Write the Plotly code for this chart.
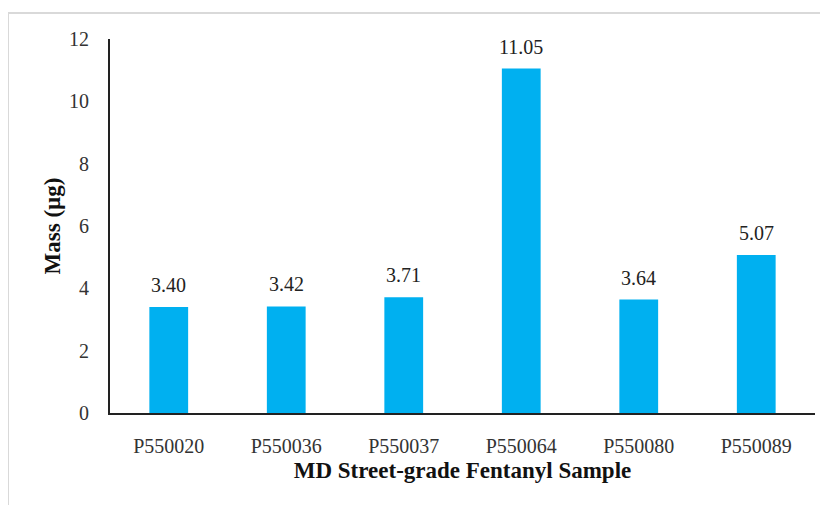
import plotly.graph_objects as go

samples = ["P550020", "P550036", "P550037", "P550064", "P550080", "P550089"]
mass = [3.40, 3.42, 3.71, 11.05, 3.64, 5.07]
labels = ["3.40", "3.42", "3.71", "11.05", "3.64", "5.07"]
y_ticks = [0, 2, 4, 6, 8, 10, 12]

font_family = "Liberation Serif"

fig = go.Figure(go.Bar(
    x=samples, y=mass,
    marker=dict(color="#00B0F0", line=dict(width=0)),
))

annotations = [
    dict(x=s, y=v, text=t, xref="x", yref="y", showarrow=False,
         yanchor="bottom", yshift=9,
         font=dict(family=font_family, size=20, color="#222222"))
    for s, v, t in zip(samples, mass, labels)
]

# page has 8px body margin: plot area at page x 110-815, y 39-413
fig.update_layout(
    width=828, height=505,
    margin=dict(l=102, r=21, t=31, b=100),
    paper_bgcolor="white", plot_bgcolor="white",
    bargap=0.67, showlegend=False,
    font=dict(family=font_family, size=20, color="#222222"),
    xaxis=dict(
        showline=True, linecolor="#222222", linewidth=2,
        showgrid=False, ticks="", ticklabelstandoff=14,
        tickfont=dict(family=font_family, size=20, color="#333333"),
        title=dict(text="<b>MD Street-grade Fentanyl Sample</b>", standoff=6,
                   font=dict(family=font_family, size=23, color="#111111")),
    ),
    yaxis=dict(
        range=[0, 12], tickvals=y_ticks,
        showline=True, linecolor="#222222", linewidth=2,
        showgrid=False, zeroline=False, ticks="", ticklabelstandoff=15,
        tickfont=dict(family=font_family, size=20, color="#333333"),
        title=dict(text="<b>Mass (µg)</b>", standoff=2,
                   font=dict(family=font_family, size=23, color="#111111")),
    ),
    annotations=annotations,
    shapes=[
        dict(type="line", xref="paper", yref="paper", x0=-0.1447, x1=1.05,
             y0=1.0695, y1=1.0695, line=dict(color="#d9d9d9", width=2)),
        dict(type="line", xref="paper", yref="paper", x0=-0.1447, x1=-0.1447,
             y0=1.0695, y1=-0.3, line=dict(color="#d9d9d9", width=2)),
    ],
)

fig.write_html("out.html")
